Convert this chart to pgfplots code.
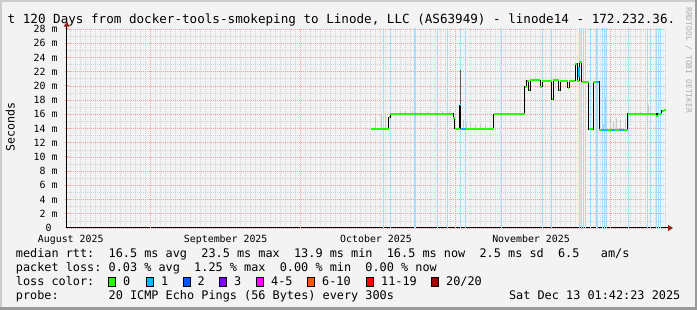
\documentclass[border=0pt]{standalone}
\usepackage{pgfplots}
\pgfplotsset{compat=1.18}
\usepackage{fontspec}
\usetikzlibrary{arrows.meta}
\newfontfamily\mono{DejaVu Sans Mono}
\definecolor{bgc}{RGB}{243,243,243}
\definecolor{lossA}{HTML}{26FF00}
\definecolor{lossB}{HTML}{00B8FF}
\definecolor{lossC}{HTML}{0059FF}
\definecolor{lossD}{HTML}{7E00FF}
\definecolor{lossE}{HTML}{FF00FF}
\definecolor{lossF}{HTML}{FF5500}
\definecolor{lossG}{HTML}{FF0000}
\definecolor{lossH}{HTML}{A10000}
\definecolor{lossbg}{RGB}{165,222,250}
\definecolor{mgrid}{RGB}{245,160,160}
\definecolor{ngrid}{RGB}{212,212,212}
\definecolor{arrowc}{RGB}{160,30,30}
\definecolor{wm}{RGB}{175,175,175}
\definecolor{shadea}{RGB}{205,205,205}
\definecolor{shadeb}{RGB}{155,155,155}
\definecolor{smoke}{RGB}{200,200,200}
\definecolor{smokedark}{RGB}{90,90,90}
\begin{document}
\begin{tikzpicture}[x=1pt,y=1pt]
\useasboundingbox (0,0) rectangle (697,310);
\fill[bgc] (0,0) rectangle (697,310);
\fill[shadea] (0,308) rectangle (697,310);
\fill[shadea] (0,0) rectangle (2,310);
\fill[shadeb] (0,0) rectangle (697,2.5);
\fill[shadeb] (694.5,0) rectangle (697,310);
% title
\node[anchor=base west, inner sep=0pt, font=\mono\fontsize{12.6}{14}\selectfont] at (7.5,286.5) {t~120~Days~from~docker-tools-smokeping~to~Linode,~LLC~(AS63949)~-~linode14~-~172.232.36.};
% watermark
\node[anchor=base west, rotate=-90, inner sep=0pt, text=wm, font=\mono\fontsize{8}{9}\selectfont] at (686,303) {RRDTOOL~/~TOBI~OETIKER};
% y label
\node[anchor=base, rotate=90, inner sep=0pt, font=\mono\fontsize{11.6}{13}\selectfont] at (14.5,183) {Seconds};
\begin{axis}[
  at={(66.7pt,82pt)}, anchor=south west,
  scale only axis, width=600pt, height=200pt,
  xmin=0, xmax=120, ymin=0, ymax=28.14,
  axis x line*=bottom, axis y line*=left,
  x axis line style={black, line width=1pt, -{Triangle[length=5pt,width=6pt,color=arrowc]}, shorten >=-6.3pt},
  y axis line style={black, line width=1pt, -{Triangle[length=5pt,width=6pt,color=arrowc]}, shorten >=-6.3pt},
  xtick={0.8,31.8,61.86,92.86},
  xticklabels={August 2025,September 2025,October 2025,November 2025},
  xticklabel style={anchor=base, inner sep=0pt, yshift=-13pt, font=\mono\fontsize{9.9}{11}\selectfont},
  x tick style={draw=none},
  minor xtick={0.66,1.66,...,119.66},
  xminorgrids,
  minor x grid style={ngrid, line width=0.6pt, dash pattern=on 1pt off 1pt},
  minor x tick style={draw=none},
  extra x ticks={16.66,46.66,77.66,108.66},
  extra x tick labels={},
  extra x tick style={grid=major, major grid style={mgrid, line width=0.6pt, dash pattern=on 1pt off 1pt}, tick style={mgrid, line width=1pt}, major tick length=5pt, tick align=center},
  ytick={0,2,...,28},
  yticklabels={0~~,2~m,4~m,6~m,8~m,10~m,12~m,14~m,16~m,18~m,20~m,22~m,24~m,26~m,28~m},
  yticklabel style={anchor=east, inner sep=0pt, xshift=-7pt, font=\mono\fontsize{9.9}{11}\selectfont},
  ymajorgrids,
  major y grid style={mgrid, line width=0.6pt, dash pattern=on 1pt off 1pt},
  minor ytick={1,3,...,27},
  yminorgrids,
  minor y grid style={ngrid, line width=0.6pt, dash pattern=on 1pt off 1pt},
  y tick style={mgrid, line width=1pt},
  major tick length=4pt, minor tick length=0pt, tick align=center,
  clip=false,
]
% loss background lines
\addplot[ycomb, lossbg, line width=1pt] coordinates {
(63.32,28.14)(64.80,28.14)(74.06,28.14)(76.06,28.14)(78.80,28.14)(79.66,28.14)
(87.00,28.14)(95.20,28.14)(96.92,28.14)(102.52,28.14)(102.86,28.14)(103.32,28.14)
(103.66,28.14)(104.66,28.14)(105.86,28.14)(106.20,28.14)(107.12,28.14)(107.52,28.14)
(107.86,28.14)(112.32,28.14)(116.20,28.14)(116.80,28.14)(117.86,28.14)(118.40,28.14)(118.80,28.14)};
\addplot[ycomb, lossbg, line width=2pt] coordinates {(69.66,28.14)};
% smoke
\addplot[draw=none, mark=none, error bars/.cd, y dir=plus, y explicit, error mark=none,
  error bar style={draw=smoke, line width=1pt}] coordinates {
(61.66,13.95) +- (0,1.7)
(62.86,13.95) +- (0,1.9)
(63.66,13.95) +- (0,1.9)
(66.66,16.1) +- (0,0.35)
(67.66,16.1) +- (0,0.35)
(69.06,16.1) +- (0,0.4)
(70.66,16.1) +- (0,0.35)
(72.26,16.1) +- (0,0.4)
(73.66,16.1) +- (0,0.35)
(75.06,16.1) +- (0,0.3)
(76.46,16.1) +- (0,0.35)
(79.26,13.95) +- (0,1.3)
(79.86,13.95) +- (0,0.9)
(80.66,13.95) +- (0,0.8)
(81.66,13.95) +- (0,0.6)
(82.66,13.95) +- (0,0.7)
(83.66,13.95) +- (0,0.5)
(84.66,13.95) +- (0,0.5)
(102.16,20.7) +- (0,1.5)
(103.26,20.6) +- (0,2.9)
(107.26,13.85) +- (0,0.8)
(107.66,13.85) +- (0,4.6)
(108.66,13.85) +- (0,1.8)
(109.26,13.85) +- (0,1.0)
(109.86,13.85) +- (0,1.6)
(110.66,13.85) +- (0,1.4)
(111.66,13.85) +- (0,1.3)
(113.66,16.05) +- (0,0.3)
(114.66,16.05) +- (0,0.3)
(116.26,16.05) +- (0,1.25)
};
\addplot[draw=none, mark=none, error bars/.cd, y dir=plus, y explicit, error mark=none,
  error bar style={draw=smokedark, line width=1pt}] coordinates {
(78.66,17.3) +- (0,4.9)
};
% median, black steps
\addplot[const plot, black, line width=1pt] coordinates {
(60.86,13.95)(64.36,15.6)(64.66,16.1)(77.32,15.5)(77.56,13.95)(78.56,17.3)(78.76,13.95)
(85.36,16.0)(91.56,19.9)(91.96,20.75)(92.36,19.4)(92.66,20.8)(94.66,19.9)(95.06,20.7)
(96.96,18.1)(97.26,20.8)(98.36,19.4)(98.66,20.75)(100.16,19.7)(100.46,20.7)(101.66,23.1)
(102.06,20.7)(102.46,23.4)(102.96,20.6)(104.36,13.9)(105.26,20.6)(106.46,13.85)
(112.16,16.05)(117.86,15.8)(118.16,16.05)(118.96,16.5)(119.36,16.6)(119.86,16.6)};
% median, loss colour 0
\addplot[jump mark left, lossA, line width=2pt] coordinates {
(60.86,13.95)(64.36,15.6)(64.66,16.1)(77.32,15.5)(77.56,13.95)(78.56,17.3)(78.76,13.95)
(85.36,16.0)(91.56,19.9)(91.96,20.75)(92.36,19.4)(92.66,20.8)(94.66,19.9)(95.06,20.7)
(96.96,18.1)(97.26,20.8)(98.36,19.4)(98.66,20.75)(100.16,19.7)(100.46,20.7)(101.66,23.1)
(102.06,20.7)(102.46,23.4)(102.96,20.6)(104.36,13.9)(105.26,20.6)(106.46,13.85)
(112.16,16.05)(117.86,15.8)(118.16,16.05)(118.96,16.5)(119.36,16.6)(119.86,16.6)};
% median, loss colour 1
\addplot[lossB, line width=2pt, unbounded coords=jump] coordinates {
(78.56,17.3)(78.76,17.3)(78.8,nan)
(79.06,13.95)(79.86,13.95)(79.9,nan)
(69.56,16.1)(69.86,16.1)(69.9,nan)
(102.46,21.2)(102.46,22.6)(102.5,nan)
(105.86,20.6)(106.46,20.6)(106.5,nan)
(107.06,13.85)(107.96,13.85)(108.0,nan)
(108.86,13.85)(109.66,13.85)(109.7,nan)
(110.46,13.85)(111.36,13.85)};
\end{axis}
% legend
\begin{scope}[every node/.style={inner sep=0pt, font=\mono\fontsize{11.85}{14}\selectfont}]
\node[anchor=base west] at (15.7,52) {median~rtt:~~16.5~ms~avg~~23.5~ms~max~~13.9~ms~min~~16.5~ms~now~~2.5~ms~sd~~6.5~~~am/s};
\node[anchor=base west] at (15.7,38) {packet~loss:~0.03~\%~avg~~1.25~\%~max~~0.00~\%~min~~0.00~\%~now};
\node[anchor=base west] at (15.7,24) {loss~color:};
\node[anchor=base west] at (15.7,10) {probe:~~~~~~~20~ICMP~Echo~Pings~(56~Bytes)~every~300s};
\node[anchor=base east] at (680.5,10) {Sat~Dec~13~01:42:23~2025};
\foreach \bx/\lx/\c/\t in {108.3/123/lossA/0, 146/161/lossB/1, 183/197.5/lossC/2, 219/234/lossD/3, 256/271/lossE/4-5, 307/322/lossF/6-10, 366/381/lossG/11-19, 431/446/lossH/{20/20}}{
  \filldraw[fill=\c, draw=black, line width=0.8pt] (\bx,24) rectangle ++(7.5,8.5);
  \node[anchor=base west] at (\lx,24) {\t};
}
\end{scope}
\end{tikzpicture}
\end{document}
